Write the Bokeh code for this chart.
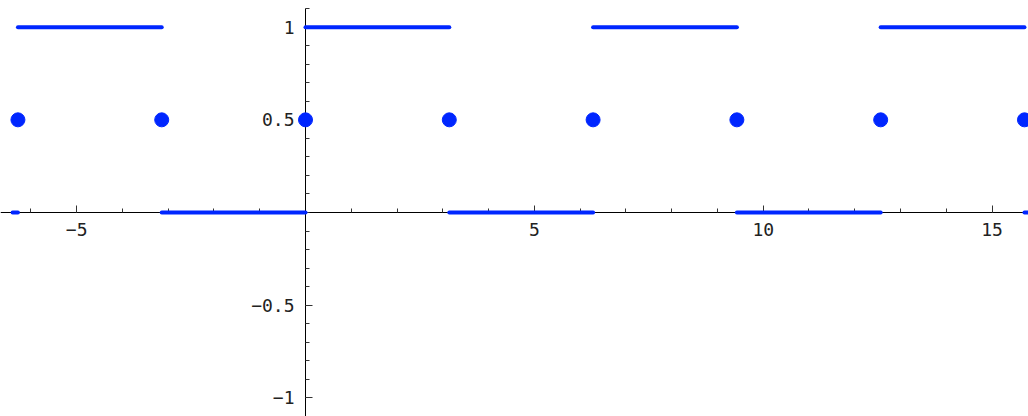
import numpy as np
from bokeh.plotting import figure
from bokeh.models import Range1d, LinearAxis, FixedTicker, CustomJSTickFormatter
from bokeh.embed import file_html
from bokeh.resources import INLINE

PI = np.pi

# Square wave: 1 on (2k*pi, (2k+1)*pi), 0 on ((2k-1)*pi, 2k*pi), 1/2 at the jumps
high_start = [-2 * PI, 0.0, 2 * PI, 4 * PI]
high_end = [-PI, PI, 3 * PI, 5 * PI]
high_value = [1.0, 1.0, 1.0, 1.0]

low_start = [-6.40, -PI, PI, 3 * PI, 5 * PI]
low_end = [-2 * PI, 0.0, 2 * PI, 4 * PI, 5.03 * PI]
low_value = [0.0, 0.0, 0.0, 0.0, 0.0]

jump_x = [-2 * PI, -PI, 0.0, PI, 2 * PI, 3 * PI, 4 * PI, 5 * PI]
jump_y = [0.5] * 8

x_major = [-5, 5, 10, 15]
x_minor = list(range(-6, 16))
y_major = [-1, -0.5, 0.5, 1]
y_minor = [round(v * 0.1, 1) for v in range(-11, 12)]

BLUE = "#0026ff"
FONT = "DejaVu Sans Mono"

p = figure(
    width=1028, height=416,
    x_range=Range1d(-6.664, 15.796), y_range=Range1d(-1.101, 1.144),
    output_backend="svg", toolbar_location=None,
    x_axis_location=None, y_axis_location=None,
    min_border=0, outline_line_color=None,
)
p.grid.visible = False

xaxis = LinearAxis(fixed_location=0,
                   ticker=FixedTicker(ticks=x_major, minor_ticks=x_minor))
yaxis = LinearAxis(fixed_location=0, bounds=(-1.1, 1.1),
                   ticker=FixedTicker(ticks=y_major, minor_ticks=y_minor))

fmt = CustomJSTickFormatter(code="return (tick < 0 ? '\u2212' : '') + Math.abs(tick).toString();")
for ax in (xaxis, yaxis):
    ax.formatter = fmt
    ax.axis_line_color = "black"
    ax.axis_line_width = 1
    ax.major_tick_in = 7
    ax.major_tick_out = 0
    ax.minor_tick_in = 4
    ax.minor_tick_out = 0
    ax.major_tick_line_color = "#333333"
    ax.minor_tick_line_color = "#333333"
    ax.major_label_text_font = FONT
    ax.major_label_text_font_size = "18px"
    ax.major_label_text_color = "#222222"
xaxis.major_label_standoff = 11
yaxis.major_label_standoff = 11

p.add_layout(xaxis, "below")
p.add_layout(yaxis, "left")

p.segment(x0=high_start, y0=high_value, x1=high_end, y1=high_value,
          line_color=BLUE, line_width=4, line_cap="round", level="overlay")
p.segment(x0=low_start, y0=low_value, x1=low_end, y1=low_value,
          line_color=BLUE, line_width=4, line_cap="round", level="overlay")
p.scatter(jump_x, jump_y, size=14, color=BLUE, level="overlay")

open("out.html", "w").write(file_html(p, INLINE))
